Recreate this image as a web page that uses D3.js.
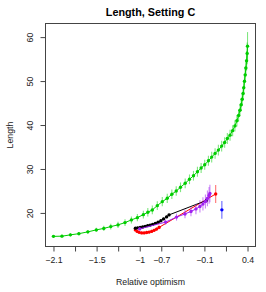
<!DOCTYPE html>
<html>
<head>
<meta charset="utf-8">
<script src="https://cdn.jsdelivr.net/npm/d3@7"></script>
<style>
  body { margin: 0; background: #ffffff; }
  text { font-family: "Liberation Sans", Arial, Helvetica, sans-serif; }
</style>
</head>
<body>
<script>
// Tick slots along the x axis (0..9) and the labels R printed on them
var xTickPos = [0, 1, 2, 3, 4, 5, 6, 7, 8, 9];
var xTickLabels = ["\u22122.1", "", "\u22121.5", "", "\u22121", "\u22120.7", "", "\u22120.1", "", "0.4"];
var yTicks = [20, 30, 40, 50, 60];

// Green series (long curve)
var greenX = [0, 0.393, 0.786, 1.178, 1.594, 1.987, 2.334, 2.657, 2.994, 3.318,
  3.614, 3.891, 4.168, 4.376, 4.584, 4.815, 5.046, 5.277, 5.490, 5.693,
  5.892, 6.109, 6.308, 6.493, 6.677, 6.848, 7.015, 7.186, 7.338, 7.495,
  7.648, 7.800, 7.939, 8.064, 8.189, 8.309, 8.415, 8.507, 8.586, 8.651,
  8.706, 8.752, 8.794, 8.826, 8.859, 8.891, 8.923, 8.956, 8.983, 9.0];
var greenY = [14.67, 14.71, 15.01, 15.28, 15.69, 16.14, 16.48, 16.89, 17.28, 17.80,
  18.41, 18.93, 19.61, 20.16, 20.68, 21.66, 22.56, 23.33, 24.24, 24.99,
  25.83, 26.74, 27.65, 28.46, 29.37, 30.21, 30.96, 31.86, 32.70, 33.54,
  34.29, 35.20, 36.04, 36.95, 37.70, 38.72, 39.80, 40.96, 42.16, 43.37,
  44.61, 45.86, 47.16, 48.47, 49.95, 51.42, 52.96, 54.60, 56.30, 57.95];
var greenErr = [0.3, 0.3, 0.35, 0.4, 0.45, 0.5, 0.6, 0.65, 0.7, 0.75,
  0.8, 0.85, 0.9, 0.95, 1.0, 1.0, 1.05, 1.05, 1.1, 1.1,
  1.1, 1.1, 1.1, 1.1, 1.15, 1.15, 1.15, 1.15, 1.2, 1.2,
  1.2, 1.2, 1.2, 1.25, 1.25, 1.25, 1.3, 1.3, 1.35, 1.35,
  1.4, 1.45, 1.5, 1.6, 1.7, 1.8, 2.0, 2.2, 2.5, 3.2];

// Red series
var redX = [3.799, 3.882, 3.974, 4.090, 4.205, 4.321, 4.436, 4.552, 4.667, 4.783, 4.898, 7.523];
var redY = [16.14, 15.80, 15.58, 15.46, 15.46, 15.53, 15.64, 15.80, 16.03, 16.32, 16.71, 24.31];
var redErr = [0.3, 0.3, 0.3, 0.3, 0.3, 0.3, 0.3, 0.35, 0.35, 0.35, 0.4, 2.05];

// Black series
var blackX = [3.799, 3.905, 4.020, 4.136, 4.251, 4.367, 4.482, 4.598, 4.723, 4.852, 4.982, 5.106, 5.245, 5.360, 7.093];
var blackY = [16.53, 16.60, 16.67, 16.78, 16.94, 17.10, 17.23, 17.39, 17.62, 17.89, 18.23, 18.64, 19.09, 19.55, 22.84];
var blackErr = [0.25, 0.25, 0.25, 0.25, 0.25, 0.25, 0.25, 0.25, 0.3, 0.3, 0.3, 0.3, 0.3, 0.3, 0.4];

// Purple series
var purpleX = [3.997, 5.199, 5.707, 6.100, 6.377, 6.608, 6.793, 6.932, 7.047, 7.140, 7.218, 7.255];
var purpleY = [16.37, 17.91, 19.05, 19.77, 20.34, 20.91, 21.47, 22.04, 22.61, 23.29, 23.97, 24.42];
var purpleErr = [0.3, 0.6, 0.8, 1.0, 1.1, 1.2, 1.4, 1.5, 1.6, 1.8, 1.9, 2.0];

// Blue single point
var blueX = [7.81];
var blueY = [20.7];
var blueErr = [2.0];

var svgWidth = 266;
var svgHeight = 292;

// plot box (R style, 4% padding on both axes)
var box = { left: 45.5, right: 255.5, top: 23.5, bottom: 246.5 };

var svg = d3.select("body")
  .append("svg")
  .attr("width", svgWidth)
  .attr("height", svgHeight);

var xScale = d3.scaleLinear()
  .domain([-0.37, 9.37])
  .range([box.left, box.right]);

var yScale = d3.scaleLinear()
  .domain([12.36, 63.1])
  .range([box.bottom, box.top]);

function makeSeries(xs, ys, errs) {
  return xs.map(function (x, i) {
    return { x: x, y: ys[i], e: errs[i] };
  });
}

var series = [
  { data: makeSeries(greenX, greenY, greenErr), color: "#00cd00", barOpacity: 0.5, line: true },
  { data: makeSeries(redX, redY, redErr), color: "#ff0000", barOpacity: 0.55, line: true },
  { data: makeSeries(blackX, blackY, blackErr), color: "#000000", barOpacity: 0.4, line: true },
  { data: makeSeries(purpleX, purpleY, purpleErr), color: "#a020f0", barOpacity: 0.55, line: true },
  { data: makeSeries(blueX, blueY, blueErr), color: "#0000ff", barOpacity: 0.6, line: false }
];

var drawLine = d3.line()
  .x(d => xScale(d.x))
  .y(d => yScale(d.y));

series.forEach(function (s) {
  var g = svg.append("g");

  // error bars
  g.selectAll("line.err")
    .data(s.data)
    .enter()
    .append("line")
    .attr("x1", d => xScale(d.x))
    .attr("x2", d => xScale(d.x))
    .attr("y1", d => yScale(d.y - d.e))
    .attr("y2", d => yScale(d.y + d.e))
    .attr("stroke", s.color)
    .attr("stroke-opacity", s.barOpacity)
    .attr("stroke-width", 1.1);

  if (s.line) {
    g.append("path")
      .attr("d", drawLine(s.data))
      .attr("fill", "none")
      .attr("stroke", s.color)
      .attr("stroke-width", 1);
  }

  g.selectAll("circle")
    .data(s.data)
    .enter()
    .append("circle")
    .attr("cx", d => xScale(d.x))
    .attr("cy", d => yScale(d.y))
    .attr("r", 1.7)
    .attr("fill", s.color);
});

// frame
svg.append("rect")
  .attr("x", box.left)
  .attr("y", box.top)
  .attr("width", box.right - box.left)
  .attr("height", box.bottom - box.top)
  .attr("fill", "none")
  .attr("stroke", "#444")
  .attr("stroke-width", 1);

// bottom axis
var bottomAxis = d3.axisBottom(xScale)
  .tickValues(xTickPos)
  .tickFormat((d, i) => xTickLabels[i])
  .tickSize(5)
  .tickPadding(5);

var xAxisG = svg.append("g")
  .attr("transform", `translate(0, ${box.bottom})`)
  .call(bottomAxis);
xAxisG.select(".domain").remove();
xAxisG.selectAll("line").attr("stroke", "#444");
xAxisG.selectAll("text")
  .attr("font-size", "8.75px")
  .attr("font-family", "Liberation Sans, Arial, sans-serif")
  .attr("fill", "#222");

// left axis with rotated labels
var leftAxis = d3.axisLeft(yScale)
  .tickValues(yTicks)
  .tickSize(5)
  .tickFormat(d3.format("d"));

var yAxisG = svg.append("g")
  .attr("transform", `translate(${box.left}, 0)`)
  .call(leftAxis);
yAxisG.select(".domain").remove();
yAxisG.selectAll("line").attr("stroke", "#444");
yAxisG.selectAll("text")
  .attr("x", null)
  .attr("dy", null)
  .attr("transform", "translate(-12.2, 0) rotate(-90)")
  .attr("text-anchor", "middle")
  .attr("font-size", "8.75px")
  .attr("font-family", "Liberation Sans, Arial, sans-serif")
  .attr("fill", "#222");

// title
svg.append("text")
  .attr("x", (box.left + box.right) / 2)
  .attr("y", 15.5)
  .attr("text-anchor", "middle")
  .attr("font-size", "10.8px")
  .attr("font-weight", "bold")
  .attr("fill", "#000")
  .text("Length, Setting C");

// x label
svg.append("text")
  .attr("x", (box.left + box.right) / 2)
  .attr("y", 285)
  .attr("text-anchor", "middle")
  .attr("font-size", "8.75px")
  .attr("fill", "#222")
  .text("Relative optimism");

// y label
svg.append("text")
  .attr("transform", `translate(13, ${(box.top + box.bottom) / 2}) rotate(-90)`)
  .attr("text-anchor", "middle")
  .attr("font-size", "8.75px")
  .attr("fill", "#222")
  .text("Length");
</script>
</body>
</html>
